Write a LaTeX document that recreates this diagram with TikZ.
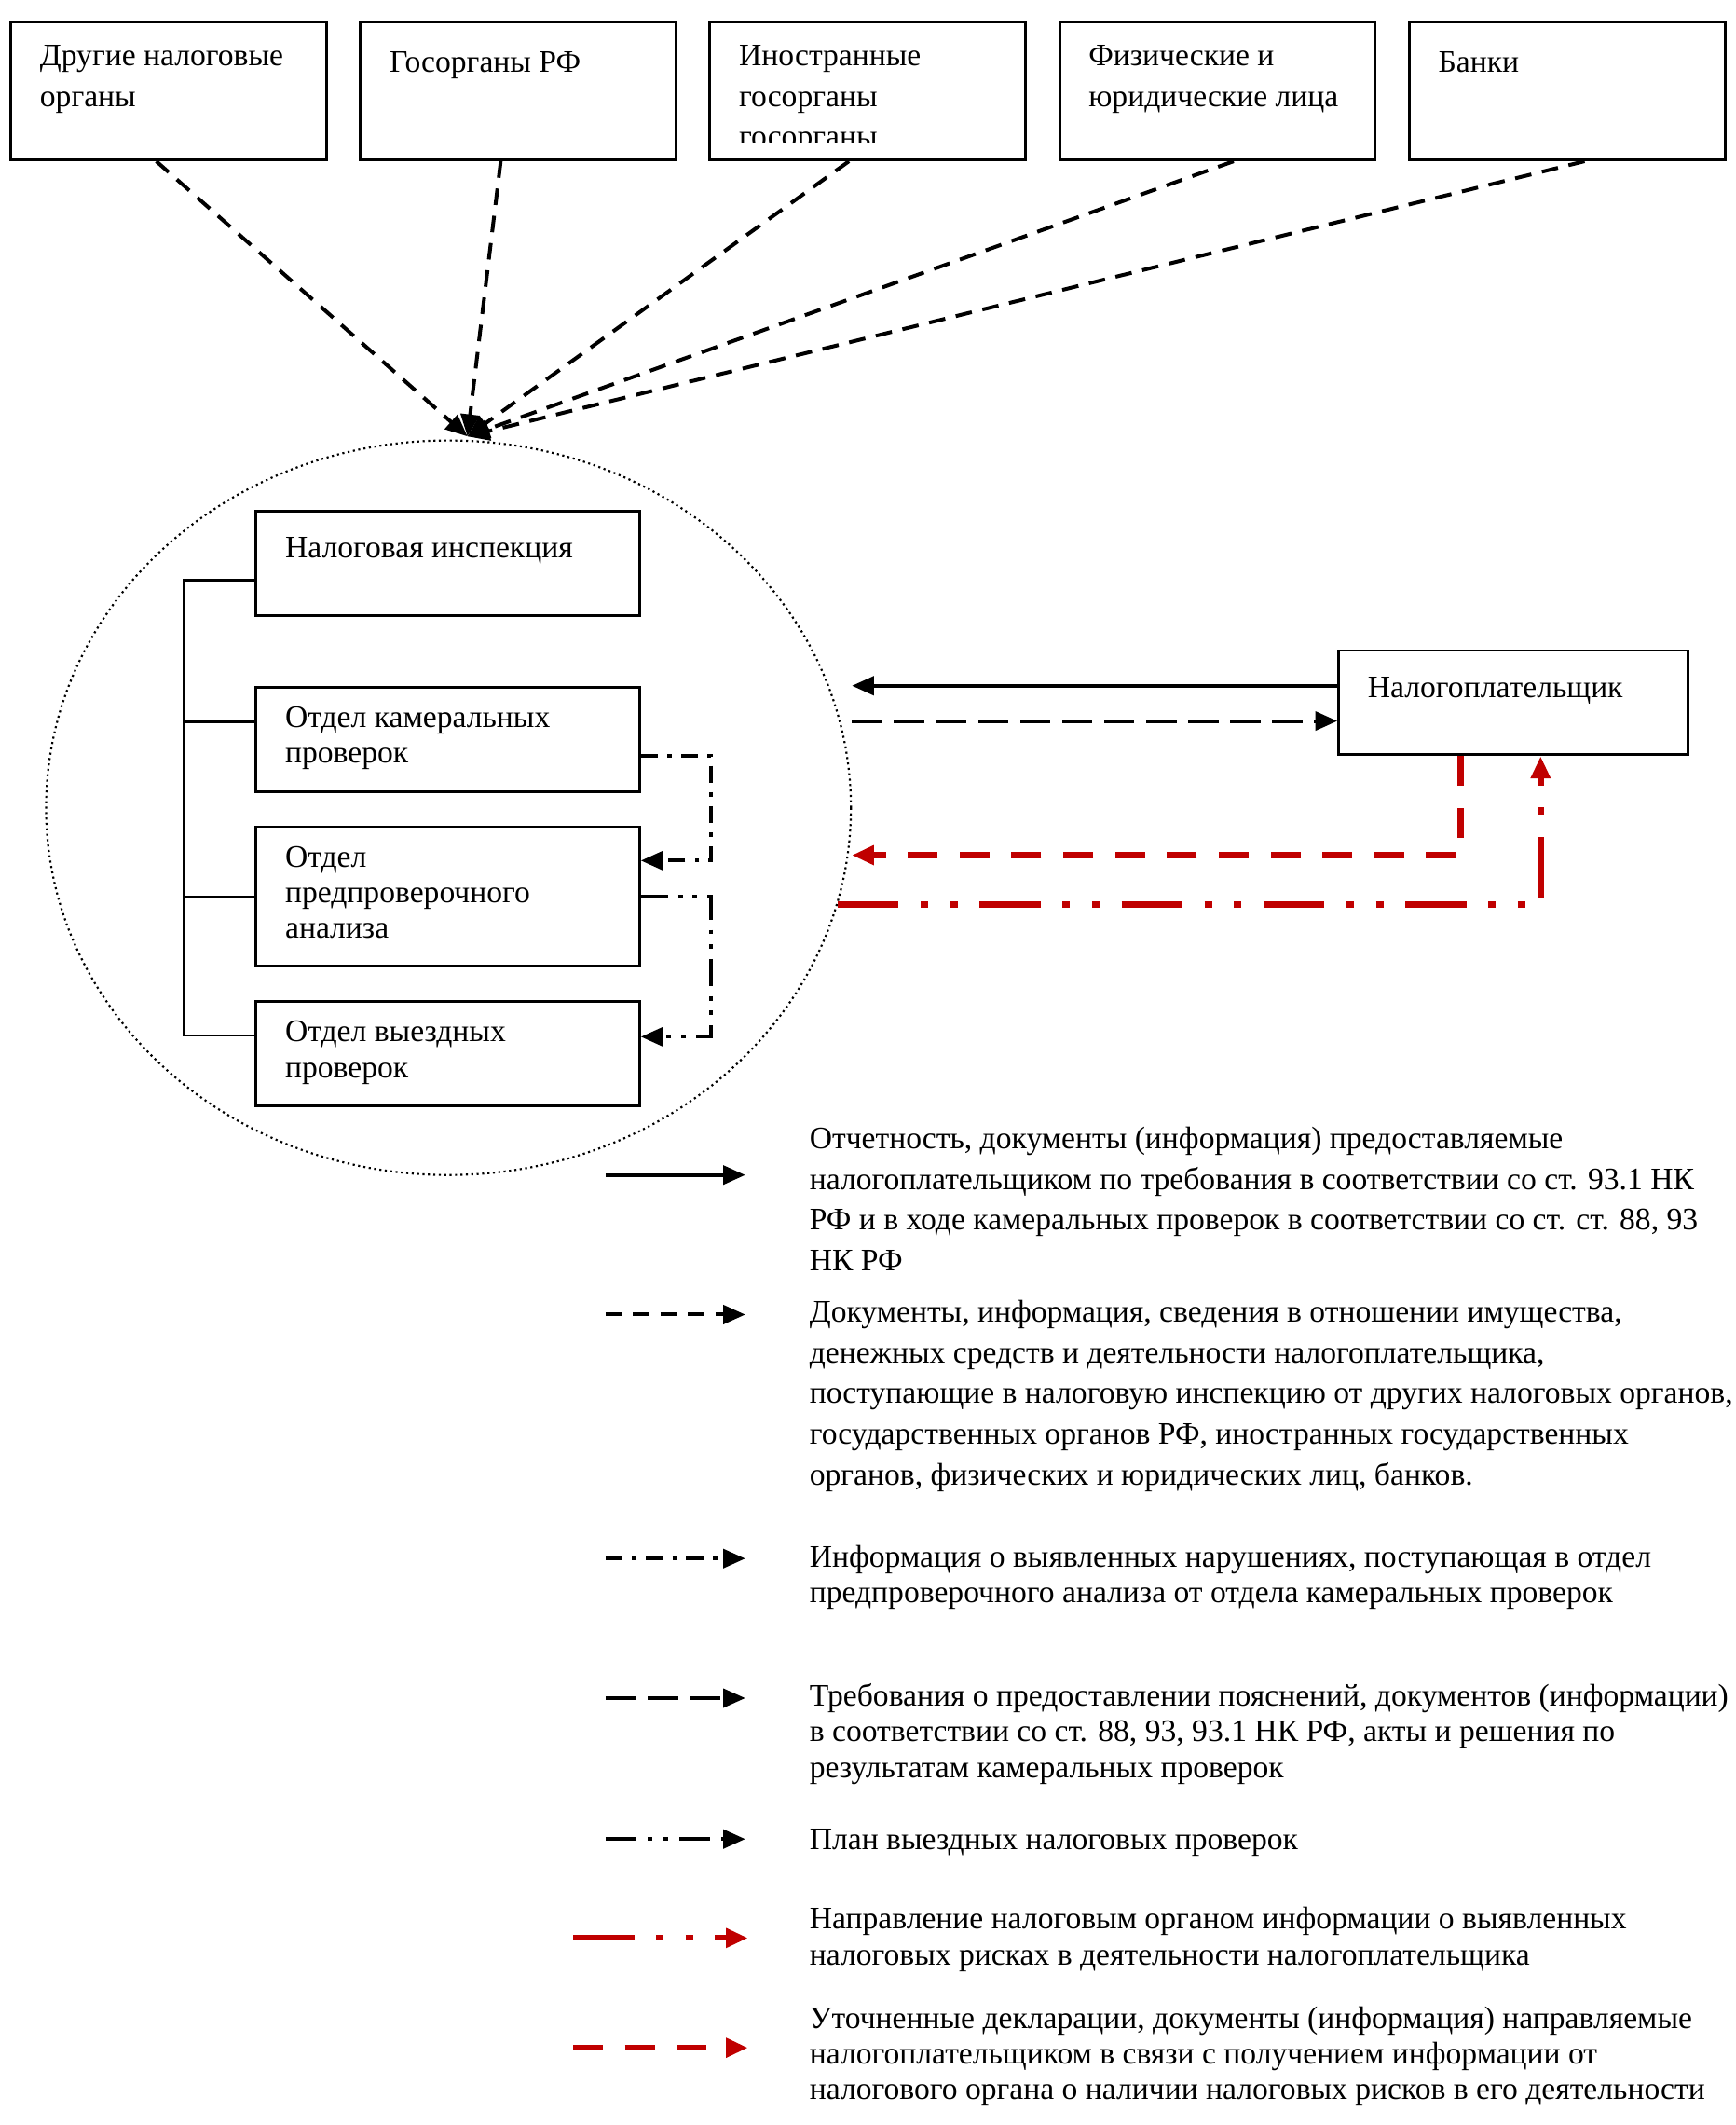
\documentclass[tikz,border=0pt]{standalone}
\usepackage{fontspec}
\setmainfont{Liberation Serif}
\usetikzlibrary{arrows.meta,shapes.geometric,positioning,calc}
\definecolor{riskred}{RGB}{192,0,0}
\newcommand{\fsWide}{\fontsize{9.25}{12}\selectfont}
\newcommand{\fsTight}{\fontsize{9.25}{10.5}\selectfont}

\begin{document}
\begin{tikzpicture}[
    x=0.4pt, y=-0.4pt,
    srcbox/.style={rectangle, draw, line width=0.8pt, minimum width=93.2pt, minimum height=40.8pt, inner sep=0pt},
    unitbox/.style={rectangle, draw, line width=0.8pt, minimum width=113.2pt, minimum height=30.8pt, inner sep=0pt},
    boxtext/.style={align=left, anchor=north west, inner sep=0pt, font=\fsWide, execute at begin node={\rule{0pt}{8pt}}},
    tighttext/.style={boxtext, font=\fsTight},
    tip/.style={-{Triangle[length=6.5pt, width=5.5pt]}},
    toparr/.style={tip, line width=1.1pt, dash pattern=on 4.9pt off 3.2pt},
    solidarr/.style={tip, line width=1.1pt},
    reqarr/.style={tip, line width=1.1pt, dash pattern=on 9pt off 3.4pt},
    infoarr/.style={tip, line width=1.1pt, dash pattern=on 5pt off 2.8pt on 1.3pt off 2.8pt},
    planarr/.style={tip, line width=1.1pt, dash pattern=on 8pt off 3pt on 1.3pt off 3pt on 1.3pt off 3pt},
    riskarr/.style={tip, riskred, line width=1.9pt, dash pattern=on 18pt off 6.5pt on 2.2pt off 6.5pt on 2.2pt off 6.5pt},
    corrarr/.style={tip, riskred, line width=1.9pt, dash pattern=on 8.8pt off 6.5pt},
    bracket/.style={line width=0.7pt}
]
    \useasboundingbox (0,0) rectangle (1281,1568);

    % Sources of information
    \node[srcbox] (oth) at (124.5,67) {};
    \node[srcbox, right=9.2pt of oth] (gos) {};
    \node[srcbox, right=9.2pt of gos] (ino) {};
    \node[srcbox, right=9.2pt of ino] (fiz) {};
    \node[srcbox, right=9.2pt of fiz] (bank) {};

    \node[boxtext] (othT) at ([shift={(22,18)}]oth.north west) {Другие налоговые\\органы};
    \node[boxtext] (gosT) at ([shift={(22,18)}]gos.north west) {Госорганы РФ};
    \begin{scope}
        \clip (ino.north west) rectangle ([yshift=5.6pt]ino.south east);
        \node[boxtext] (inoT) at ([shift={(22,18)}]ino.north west) {Иностранные\\госорганы\\госорганы};
    \end{scope}
    \node[boxtext] (fizT) at ([shift={(22,18)}]fiz.north west) {Физические и\\юридические лица};
    \node[boxtext] (bankT) at ([shift={(22,18)}]bank.north west) {Банки};

    % Tax inspection
    \node[ellipse, draw, line width=0.6pt, dash pattern=on 0.6pt off 1pt, minimum width=237.6pt, minimum height=216.8pt, inner sep=0pt] (insp) at (331,596) {};
    \coordinate (hub) at (345,322);

    \node[unitbox] (nal) at (330.5,415.5) {};
    \node[unitbox, below=20.4pt of nal] (kam) {};
    \node[unitbox, below=9.6pt of kam, minimum height=41.2pt] (pred) {};
    \node[unitbox, below=9.6pt of pred] (vyezd) {};

    \node[tighttext] (nalT) at ([shift={(22,15)}]nal.north west) {Налоговая инспекция};
    \node[tighttext] (kamT) at ([shift={(22,15)}]kam.north west) {Отдел камеральных\\проверок};
    \node[tighttext] (predT) at ([shift={(22,15)}]pred.north west) {Отдел\\предпроверочного\\анализа};
    \node[tighttext] (vyezdT) at ([shift={(22,15)}]vyezd.north west) {Отдел выездных\\проверок};

    \draw[bracket] ([yshift=-5pt]nal.west) -- ++(-20.8pt,0) |- ([yshift=5.4pt]vyezd.west);
    \draw[bracket] ([yshift=5.2pt]kam.west) -- ++(-20.8pt,0);
    \draw[bracket] (pred.west) -- ++(-20.8pt,0);

    \draw[infoarr] ([yshift=-4.8pt]kam.east) -| ([xshift=20.8pt,yshift=10.6pt]pred.east) -- ([yshift=10.6pt]pred.east);
    \draw[planarr] (pred.east) -| ([xshift=20.8pt,yshift=5pt]vyezd.east) -- ([yshift=5pt]vyezd.east);

    % Incoming information
    \draw[toparr] (oth.-100) -- (hub);
    \draw[toparr] (gos.-104) -- (hub);
    \draw[toparr] (ino.-105) -- (hub);
    \draw[toparr] (fiz.-77) -- (hub);
    \draw[toparr] (bank.-76) -- (hub);

    % Taxpayer
    \node[rectangle, draw, line width=0.8pt, minimum width=103.2pt, minimum height=30.8pt, inner sep=0pt] (payer) at (1117,518.5) {};
    \node[boxtext] (payerT) at ([shift={(22,15)}]payer.north west) {Налогоплательщик};

    \coordinate (pin) at ([yshift=5pt]payer.west);
    \coordinate (pout) at ([yshift=-5.4pt]payer.west);
    \draw[solidarr] (pin) -- (pin -| insp.east);
    \draw[reqarr] (pout -| insp.east) -- (pout);
    \draw[corrarr] ([xshift=-15.6pt]payer.south) |- ([yshift=-14pt]insp.east);
    \draw[riskarr] (insp.-14.45) -| ([xshift=8pt]payer.south);

    % Legend
    \coordinate (l1s) at (447,867);  \coordinate (l1e) at (550,867);
    \coordinate (l2s) at (447,970);  \coordinate (l2e) at (550,970);
    \coordinate (l3s) at (447,1150); \coordinate (l3e) at (550,1150);
    \coordinate (l4s) at (447,1253); \coordinate (l4e) at (550,1253);
    \coordinate (l5s) at (447,1357); \coordinate (l5e) at (550,1357);
    \coordinate (l6s) at (423,1430); \coordinate (l6e) at (552,1430);
    \coordinate (l7s) at (423,1511); \coordinate (l7e) at (552,1511);

    \draw[solidarr] (l1s) -- (l1e);
    \draw[toparr] (l2s) -- (l2e);
    \draw[infoarr] (l3s) -- (l3e);
    \draw[reqarr, line width=1pt] (l4s) -- (l4e);
    \draw[planarr, dash pattern=on 9pt off 3.4pt on 1.3pt off 3.4pt on 1.3pt off 3.4pt] (l5s) -- (l5e);
    \draw[riskarr, line width=1.6pt] (l6s) -- (l6e);
    \draw[corrarr, line width=1.6pt] (l7s) -- (l7e);

    \node[boxtext] (leg1) at (597,831) {Отчетность, документы (информация) предоставляемые\\налогоплательщиком по требования в соответствии со ст. 93.1 НК\\РФ и в ходе камеральных проверок в соответствии со ст. ст. 88, 93\\НК РФ};
    \node[boxtext] (leg2) at (597,959) {Документы, информация, сведения в отношении имущества,\\денежных средств и деятельности налогоплательщика,\\поступающие в налоговую инспекцию от других налоговых органов,\\государственных органов РФ, иностранных государственных\\органов, физических и юридических лиц, банков.};
    \node[tighttext] (leg3) at (597,1140) {Информация о выявленных нарушениях, поступающая в отдел\\предпроверочного анализа от отдела камеральных проверок};
    \node[tighttext] (leg4) at (597,1242) {Требования о предоставлении пояснений, документов (информации)\\в соответствии со ст. 88, 93, 93.1 НК РФ, акты и решения по\\результатам камеральных проверок};
    \node[tighttext] (leg5) at (597,1344) {План выездных налоговых проверок};
    \node[tighttext] (leg6) at (597,1407) {Направление налоговым органом информации о выявленных\\налоговых рисках в деятельности налогоплательщика};
    \node[tighttext] (leg7) at (597,1480) {Уточненные декларации, документы (информация) направляемые\\налогоплательщиком в связи с получением информации от\\налогового органа о наличии налоговых рисков в его деятельности};
\end{tikzpicture}
\end{document}
